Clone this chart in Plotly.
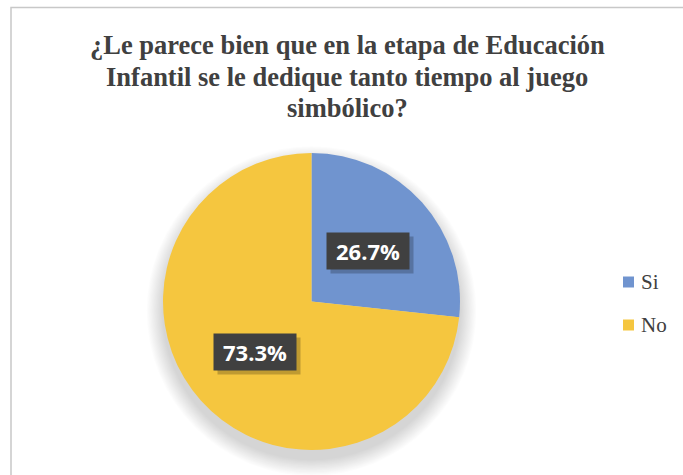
import math
import plotly.graph_objects as go

categories = ["Si", "No"]
values = [26.7, 73.3]
colors = ["#7094CF", "#F5C63F"]
label_radius = [0.51, 0.51]
title_lines = ["¿Le parece bien que en la etapa de Educación",
               "Infantil se le dedique tanto tiempo al juego",
               "simbólico?"]

W, H = 683, 475
# pie domain in paper fractions (margins are zero so paper == page)
dx = [163 / W, 460 / W]
dy = [1 - 450 / H, 1 - 153 / H]
cx = (dx[0] + dx[1]) / 2
cy = (dy[0] + dy[1]) / 2
rx = (dx[1] - dx[0]) / 2
ry = (dy[1] - dy[0]) / 2

fig = go.Figure()
fig.add_trace(go.Pie(
    labels=categories, values=values, sort=False, direction="clockwise",
    rotation=0, marker=dict(colors=colors, line=dict(width=0)),
    textinfo="none", hoverinfo="label+percent", showlegend=False,
    domain=dict(x=dx, y=dy),
))

shapes = []
# soft shadow behind the pie (slightly offset downward)
n = 14
for i in range(n):
    grow = 1.11 - i * 0.008
    shapes.append(dict(type="circle", xref="paper", yref="paper", layer="below",
                       x0=cx - rx * grow, x1=cx + rx * grow,
                       y0=cy - ry * grow - 0.02, y1=cy + ry * grow - 0.02,
                       fillcolor="rgba(0,0,0,0.012)", line=dict(width=0)))
# chart border
shapes.append(dict(type="rect", xref="paper", yref="paper",
                   x0=11 / W, x1=1.01, y0=-0.01, y1=1 - 7.5 / H,
                   line=dict(color="#C8C8C8", width=1.5)))

annotations = []
# title lines
title_y = [45, 77, 108]
for line, yy in zip(title_lines, title_y):
    annotations.append(dict(x=347 / W, y=1 - yy / H, xref="paper", yref="paper",
                            text=f"<b>{line}</b>", showarrow=False,
                            xanchor="center", yanchor="middle",
                            font=dict(family="Liberation Serif", size=26.5, color="#404040")))

# data labels
total = sum(values)
cum = 0
for cat, v, rr in zip(categories, values, label_radius):
    mid = (cum + v / 2) / total * 2 * math.pi
    cum += v
    ax = cx + rr * rx * math.sin(mid)
    ay = cy + rr * ry * math.cos(mid)
    txt = f"{v / total * 100:.1f}%"
    annotations.append(dict(x=ax, y=ay, xref="paper", yref="paper", text=txt,
                            xanchor="center", yanchor="middle",
                            showarrow=False, xshift=4, yshift=-4, width=74, height=28,
                            font=dict(family="Open Sans", size=22, color="rgba(0,0,0,0)"),
                            bgcolor="rgba(0,0,0,0.22)", borderpad=4))
    annotations.append(dict(x=ax, y=ay, xref="paper", yref="paper",
                            xanchor="center", yanchor="middle",
                            text=f"<b>{txt}</b>", showarrow=False, width=74, height=28,
                            font=dict(family="Open Sans", size=22, color="white"),
                            bgcolor="#404040", borderpad=4))

# legend (manual, for Excel-like spacing)
leg_x = 623 / W
leg_y0 = 282
leg_gap = 43
sq = 11
for i, (cat, col) in enumerate(zip(categories, colors)):
    yc = leg_y0 + i * leg_gap
    shapes.append(dict(type="rect", xref="paper", yref="paper",
                       x0=leg_x, x1=leg_x + sq / W,
                       y0=1 - (yc + sq / 2) / H, y1=1 - (yc - sq / 2) / H,
                       fillcolor=col, line=dict(width=0)))
    annotations.append(dict(x=leg_x + (sq + 5) / W, y=1 - yc / H, xref="paper", yref="paper",
                            text=cat, showarrow=False, xanchor="left", yanchor="middle",
                            font=dict(family="Liberation Serif", size=21, color="#404040")))

fig.update_layout(
    width=W, height=H,
    margin=dict(l=0, r=0, t=0, b=0),
    paper_bgcolor="white",
    showlegend=False,
    shapes=shapes, annotations=annotations,
)
fig.write_html("out.html", config={"displayModeBar": False},
               post_script="document.body.style.margin='0';document.body.style.overflow='hidden';")
